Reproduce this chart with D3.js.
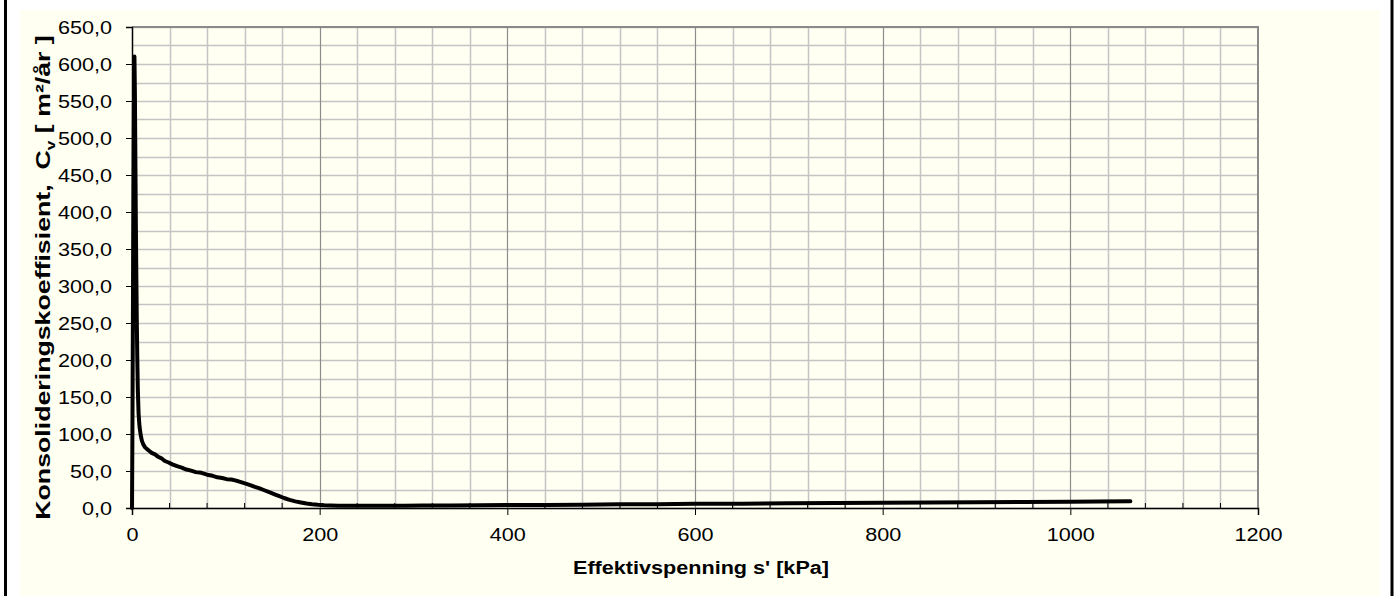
<!DOCTYPE html>
<html>
<head>
<meta charset="utf-8">
<script src="https://cdn.jsdelivr.net/npm/d3@7"></script>
<style>
  body { margin: 0; background: #ffffff; }
  svg { display: block; }
  text { font-family: "Liberation Sans", Arial, sans-serif; fill: #000; }
</style>
</head>
<body>
<svg id="chart" width="1398" height="596"></svg>
<script>
// Effective stress [kPa] and consolidation coefficient cv [m²/år]
const stress = [0, 0.4, 1.2, 2.0, 2.6, 3.1, 3.6, 4.1, 4.6, 5.1, 5.6, 6.2, 7.0, 8.0, 9.2, 10.5,
  12, 14, 16, 18.5, 21, 24.5, 28, 31, 35, 39, 43, 48, 53, 58, 63, 68, 74, 80, 86, 91, 96,
  101, 106, 111, 117, 122, 126, 131, 136, 141, 147, 152, 157, 162, 168, 174, 180, 186, 192,
  198, 205, 212, 220, 235, 250, 270, 290, 310, 340, 370, 400, 440, 480, 520, 560, 600, 650,
  700, 750, 800, 850, 900, 950, 1000, 1030, 1064];
const cv = [0, 90, 330, 540, 610, 560, 470, 385, 315, 255, 205, 160, 128, 110, 99, 91,
  86, 82, 79.5, 77, 74.5, 72.5, 69, 67.5, 63.5, 61.5, 59, 56.5, 54.5, 52, 50.5, 48.5, 47.5,
  45, 43.5, 41.5, 40.5, 39, 38.5, 37, 34.5, 32.5, 31, 28.5, 26.5, 24, 21, 18.5, 16, 13.5, 11,
  9, 7.5, 6, 5, 4.3, 3.8, 3.5, 3.2, 3.0, 3.1, 3.0, 3.2, 3.3, 3.4, 3.6, 3.9, 4.2, 4.5, 4.9,
  5.2, 5.6, 5.9, 6.3, 6.7, 7.0, 7.4, 7.8, 8.2, 8.6, 8.9, 9.2];

const xTickValues = [0, 200, 400, 600, 800, 1000, 1200];
const xMinorValues = [40, 80, 120, 160, 240, 280, 320, 360, 440, 480, 520, 560, 640, 680, 720, 760,
  840, 880, 920, 960, 1040, 1080, 1120, 1160];
const yTickValues = [0, 50, 100, 150, 200, 250, 300, 350, 400, 450, 500, 550, 600, 650];
const yMinorValues = [25, 75, 125, 175, 225, 275, 325, 375, 425, 475, 525, 575, 625];

const xTitle = "Effektivspenning s' [kPa]";
const yTitleParts = ["Konsolideringskoeffisient,  C", "v", " [ m²/år ]"];

const W = 1398, H = 596;
const plot = { left: 132, right: 1258, top: 27, bottom: 508 };
const stretchX = 1.2; // text is drawn horizontally widened

const svg = d3.select("#chart");

// page background and frame
svg.append("rect").attr("x", 0).attr("y", 0).attr("width", W).attr("height", H).attr("fill", "#ffffff");
svg.append("rect").attr("x", 20).attr("y", 10).attr("width", 1360).attr("height", H - 10).attr("fill", "#fffff2");
svg.append("line").attr("x1", 5.5).attr("x2", 5.5).attr("y1", 0).attr("y2", H).attr("stroke", "#000").attr("stroke-width", 3);
svg.append("line").attr("x1", 1392).attr("x2", 1392).attr("y1", 0).attr("y2", H).attr("stroke", "#000").attr("stroke-width", 3);

const x = d3.scaleLinear().domain([0, 1200]).range([plot.left, plot.right]);
const y = d3.scaleLinear().domain([0, 650]).range([plot.bottom, plot.top]);

const grid = svg.append("g");
// horizontal grid lines every 25
grid.selectAll("line.hy").data(yTickValues.concat(yMinorValues)).join("line")
  .attr("x1", plot.left).attr("x2", plot.right)
  .attr("y1", d => Math.round(y(d)) + 0.5).attr("y2", d => Math.round(y(d)) + 0.5)
  .attr("stroke", "#c4c4c4").attr("stroke-width", 1.5);
// minor vertical grid lines every 40
grid.selectAll("line.vx").data(xMinorValues).join("line")
  .attr("y1", plot.top).attr("y2", plot.bottom)
  .attr("x1", d => Math.round(x(d)) + 0.5).attr("x2", d => Math.round(x(d)) + 0.5)
  .attr("stroke", "#c4c4c4").attr("stroke-width", 1.5);
// major vertical grid lines every 200
grid.selectAll("line.vm").data(xTickValues.slice(1, -1)).join("line")
  .attr("y1", plot.top).attr("y2", plot.bottom)
  .attr("x1", d => Math.round(x(d)) + 0.5).attr("x2", d => Math.round(x(d)) + 0.5)
  .attr("stroke", "#8c8c8c").attr("stroke-width", 1.2);

// plot frame (top and right)
svg.append("path")
  .attr("d", `M${plot.left},${plot.top}H${plot.right}V${plot.bottom}`)
  .attr("fill", "none").attr("stroke", "#8a8a8a").attr("stroke-width", 2);

function widen(sel) {
  sel.each(function () {
    const w = this.getComputedTextLength();
    this.setAttribute("textLength", w * stretchX);
    this.setAttribute("lengthAdjust", "spacingAndGlyphs");
  });
}

const fmt = d => d3.format(".1f")(d).replace(".", ",");

// y axis
const yAxis = svg.append("g").attr("transform", `translate(${plot.left},0)`)
  .call(d3.axisLeft(y).tickValues(yTickValues).tickFormat(fmt).tickSize(6).tickPadding(14));
yAxis.select(".domain").attr("stroke", "#000").attr("stroke-width", 1.5);
yAxis.selectAll(".tick line").attr("stroke", "#000");
yAxis.selectAll(".tick text").attr("font-size", 18).attr("dy", "0.35em").call(widen);

// x axis
const xAxis = svg.append("g").attr("transform", `translate(0,${plot.bottom})`)
  .call(d3.axisBottom(x).tickValues(xTickValues).tickSize(7).tickPadding(13).tickFormat(d3.format("d")));
xAxis.select(".domain").attr("stroke", "#000").attr("stroke-width", 1.5);
xAxis.selectAll(".tick line").attr("stroke", "#000");
xAxis.selectAll(".tick text").attr("font-size", 18).call(widen);
// minor ticks pointing into the plot
xAxis.selectAll("line.minor").data(xMinorValues).join("line")
  .attr("x1", d => x(d)).attr("x2", d => x(d)).attr("y1", 0).attr("y2", -5)
  .attr("stroke", "#000").attr("stroke-width", 1);

// axis titles
svg.append("text").attr("x", 701).attr("y", 574).attr("text-anchor", "middle")
  .attr("font-size", 18).attr("font-weight", "bold").text(xTitle).call(widen);

// rotated y title, stretched along its length to span the plot height
const yTitleG = svg.append("g");
const yTitle = yTitleG.append("text")
  .attr("text-anchor", "middle").attr("font-size", 20).attr("font-weight", "bold")
  .style("white-space", "pre");
yTitle.append("tspan").text(yTitleParts[0]);
yTitle.append("tspan").attr("font-size", 13).attr("dy", 5).text(yTitleParts[1]);
yTitle.append("tspan").attr("dy", -5).text(yTitleParts[2]);
const titleLen = yTitle.node().getBBox().width;
const targetLen = 485;
yTitleG.attr("transform", `translate(50,277.5) rotate(-90) scale(${targetLen / titleLen},1.05)`);

// data line
const line = d3.line().x((d, i) => x(stress[i])).y(d => y(d));
svg.append("path").datum(cv)
  .attr("d", line)
  .attr("fill", "none").attr("stroke", "#000").attr("stroke-width", 4)
  .attr("stroke-linejoin", "round").attr("stroke-linecap", "round");
</script>
</body>
</html>
